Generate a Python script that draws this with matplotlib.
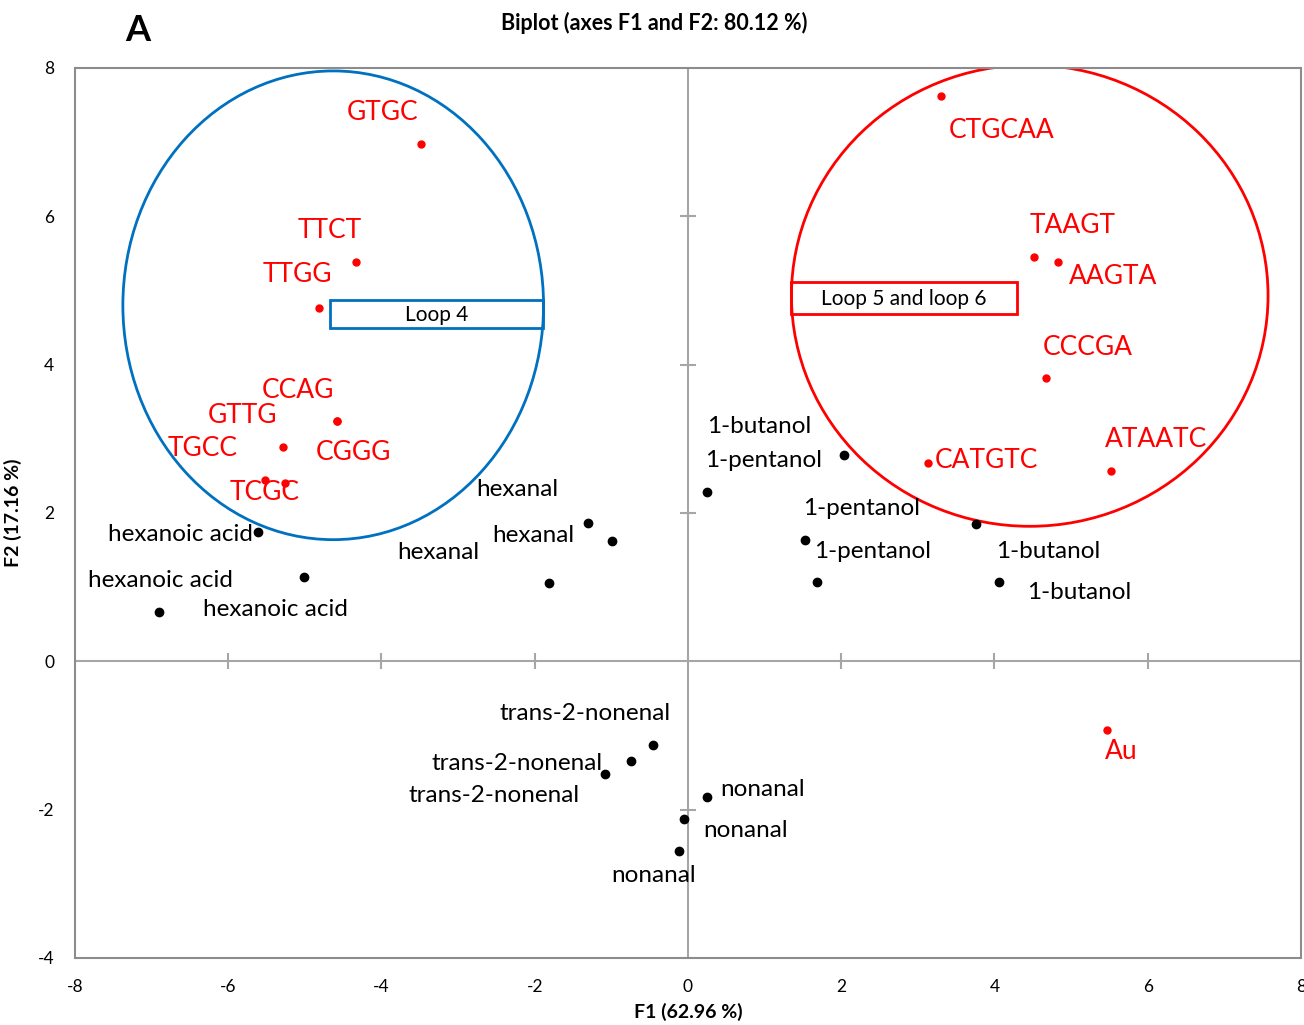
import numpy as np
import matplotlib.pyplot as plt
from matplotlib.patches import Ellipse, Rectangle

plt.rcParams['font.family'] = ['Lato', 'DejaVu Sans']
plt.rcParams['axes.unicode_minus'] = False

# Точки аптамеров (красные)
apt_names = ['GTGC', 'TTCT', 'TTGG', 'CCAG', 'GTTG', 'TGCC', 'CGGG', 'TCGC',
             'CTGCAA', 'TAAGT', 'AAGTA', 'CCCGA', 'CATGTC', 'ATAATC', 'Au']
apt_f1 = [-3.48, -4.33, -4.81, -4.58, -5.28, -5.52, -4.58, -5.26,
          3.30, 4.51, 4.83, 4.67, 3.13, 5.52, 5.47]
apt_f2 = [6.97, 5.38, 4.77, 3.24, 2.89, 2.44, 3.24, 2.40,
          7.62, 5.45, 5.39, 3.82, 2.67, 2.56, -0.92]
# где стоят подписи (центр текста)
apt_lab_x = [-3.99, -4.67, -5.10, -5.09, -5.81, -6.33, -4.37, -5.53,
             4.09, 5.02, 5.55, 5.22, 3.89, 6.11, 5.66]
apt_lab_y = [7.40, 5.81, 5.22, 3.65, 3.32, 2.87, 2.82, 2.27,
             7.15, 5.88, 5.19, 4.23, 2.71, 2.99, -1.21]

# Точки летучих веществ (чёрные)
voc_names = ['hexanoic acid', 'hexanoic acid', 'hexanoic acid',
             'hexanal', 'hexanal', 'hexanal',
             '1-butanol', '1-pentanol', '1-pentanol', '1-pentanol',
             '1-butanol', '1-butanol',
             'trans-2-nonenal', 'trans-2-nonenal', 'trans-2-nonenal',
             'nonanal', 'nonanal', 'nonanal']
voc_f1 = [-5.61, -5.01, -6.90, -1.31, -0.99, -1.81,
          2.03, 0.25, 1.53, 1.69, 3.76, 4.06,
          -0.46, -0.74, -1.08, 0.25, -0.05, -0.12]
voc_f2 = [1.75, 1.13, 0.66, 1.87, 1.62, 1.05,
          2.78, 2.28, 1.63, 1.07, 1.85, 1.07,
          -1.13, -1.35, -1.52, -1.83, -2.13, -2.56]
voc_lab_x = [-6.63, -6.89, -5.39, -2.23, -2.02, -3.26,
             0.93, 0.99, 2.27, 2.41, 4.70, 5.11,
             -1.34, -2.23, -2.53, 0.97, 0.75, -0.45]
voc_lab_y = [1.71, 1.09, 0.70, 2.31, 1.70, 1.47,
             3.17, 2.71, 2.06, 1.48, 1.48, 0.93,
             -0.71, -1.38, -1.81, -1.73, -2.28, -2.89]

ticks_x = [-8, -6, -4, -2, 0, 2, 4, 6, 8]
ticks_y = [-4, -2, 0, 2, 4, 6, 8]

fig = plt.figure(figsize=(13.04, 10.25), dpi=100)
ax = fig.add_axes([0.0575, 0.0654, 0.9402, 0.8683])
ax.set_xlim(-8, 8)
ax.set_ylim(-4, 8)

for s in ax.spines.values():
    s.set_color('#8c8c8c')
    s.set_linewidth(1.5)

ax.set_xticks(ticks_x)
ax.set_yticks(ticks_y)
ax.tick_params(length=0, labelsize=12.5)
ax.tick_params(axis='x', pad=15)
ax.tick_params(axis='y', pad=15)

# оси через ноль, как в Excel
ax.axhline(0, color='#a6a6a6', lw=1.5, zorder=1)
ax.axvline(0, color='#a6a6a6', lw=1.5, zorder=1)
tx = [t for t in ticks_x if t not in (-8, 0, 8)]
ty = [t for t in ticks_y if t not in (-4, 0, 8)]
ax.plot(tx, [0] * len(tx), ls='none', marker='|', ms=12, mew=1.5, color='#a6a6a6', zorder=1)
ax.plot([0] * len(ty), ty, ls='none', marker='_', ms=12, mew=1.5, color='#a6a6a6', zorder=1)

# группы
ax.add_patch(Ellipse((-4.63, 4.80), 5.49, 6.32, fill=False, ec='#0070C0', lw=2, zorder=2))
ax.add_patch(Ellipse((4.46, 4.93), 6.22, 6.22, fill=False, ec='#FF0000', lw=2, zorder=2))
ax.add_patch(Rectangle((-4.67, 4.50), 2.78, 0.37, fill=False, ec='#0070C0', lw=2, zorder=2))
ax.add_patch(Rectangle((1.35, 4.68), 2.95, 0.43, fill=False, ec='#FF0000', lw=2, zorder=2))
ax.text(-3.28, 4.67, 'Loop 4', ha='center', va='center', fontsize=15)
ax.text(2.82, 4.88, 'Loop 5 and loop 6', ha='center', va='center', fontsize=15)

ax.plot(voc_f1, voc_f2, 'o', color='black', ms=6, zorder=3)
ax.plot(apt_f1, apt_f2, 'o', color='#FF0000', ms=5, zorder=3)

for name, x, y in zip(voc_names, voc_lab_x, voc_lab_y):
    ax.text(x, y, name, ha='center', va='center', fontsize=17.5, color='black')
for name, x, y in zip(apt_names, apt_lab_x, apt_lab_y):
    ax.text(x, y, name, ha='center', va='center', fontsize=19, color='#FF0000')

ax.set_xlabel('F1 (62.96 %)', fontsize=14, fontweight='bold')
ax.xaxis.set_label_coords(0.5, -0.051)
ax.set_ylabel('F2 (17.16 %)', fontsize=14, fontweight='bold')
ax.yaxis.set_label_coords(-0.043, 0.5)
fig.text(0.502, 0.978, 'Biplot (axes F1 and F2: 80.12 %)', ha='center', va='center',
         fontsize=15.5, fontweight='bold')
fig.text(0.106, 0.970, 'A', ha='center', va='center', fontsize=26, fontweight='bold')

fig.savefig('out.png', dpi=100)
